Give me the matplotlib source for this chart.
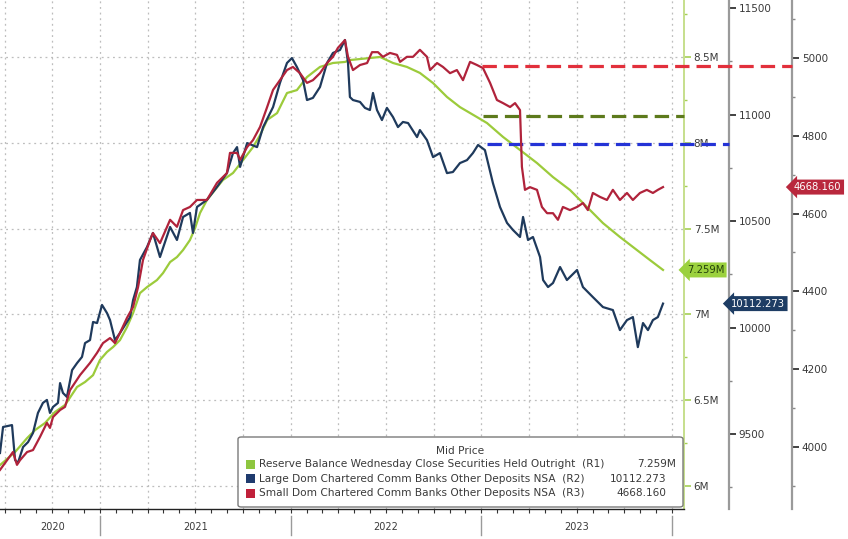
import matplotlib
matplotlib.use('Agg')
import matplotlib.pyplot as plt
import matplotlib.transforms as mtransforms
from matplotlib.patches import FancyBboxPatch, Rectangle
from matplotlib.ticker import MultipleLocator, FixedLocator, FuncFormatter, NullFormatter

# === Series (x in decimal years) ===
# Reserve Balance Wednesday Close Securities Held Outright (R1, millions -> "M")
green_x = [2020.476, 2020.555, 2020.618, 2020.660, 2020.712, 2020.764, 2020.817, 2020.880, 2020.922,
           2020.964, 2021.000, 2021.037, 2021.069, 2021.105, 2021.142, 2021.174, 2021.210, 2021.247,
           2021.299, 2021.331, 2021.368, 2021.404, 2021.436, 2021.472, 2021.499, 2021.525, 2021.561,
           2021.603, 2021.645, 2021.698, 2021.751, 2021.803, 2021.840, 2021.877, 2021.929, 2021.981,
           2022.033, 2022.086, 2022.154, 2022.222, 2022.285, 2022.311, 2022.416, 2022.469, 2022.537,
           2022.610, 2022.678, 2022.747, 2022.820, 2022.888, 2022.977, 2023.030, 2023.114, 2023.203,
           2023.292, 2023.376, 2023.465, 2023.554, 2023.638, 2023.727, 2023.816, 2023.884, 2023.953]
green_v = [6.122, 6.198, 6.279, 6.326, 6.367, 6.431, 6.472, 6.577, 6.606,
           6.646, 6.734, 6.781, 6.810, 6.850, 6.926, 7.008, 7.124, 7.159,
           7.200, 7.241, 7.305, 7.334, 7.375, 7.433, 7.503, 7.591, 7.666,
           7.725, 7.783, 7.824, 7.900, 7.975, 8.045, 8.133, 8.173, 8.290,
           8.307, 8.383, 8.442, 8.465, 8.471, 8.482, 8.494, 8.500, 8.465,
           8.442, 8.407, 8.348, 8.267, 8.208, 8.150, 8.115, 8.034, 7.958,
           7.882, 7.800, 7.725, 7.626, 7.532, 7.451, 7.375, 7.317, 7.259]

# Large Dom Chartered Comm Banks Other Deposits NSA (R2)
blue_x = [2020.476, 2020.492, 2020.539, 2020.555, 2020.570, 2020.597, 2020.623, 2020.649, 2020.675,
          2020.701, 2020.722, 2020.738, 2020.754, 2020.780, 2020.791, 2020.806, 2020.827, 2020.854,
          2020.880, 2020.906, 2020.922, 2020.948, 2020.964, 2020.985, 2021.011, 2021.037, 2021.053,
          2021.079, 2021.105, 2021.132, 2021.158, 2021.174, 2021.194, 2021.210, 2021.247, 2021.278,
          2021.315, 2021.368, 2021.404, 2021.436, 2021.472, 2021.488, 2021.509, 2021.561, 2021.614,
          2021.666, 2021.698, 2021.719, 2021.735, 2021.772, 2021.824, 2021.856, 2021.908, 2021.944,
          2021.981, 2022.007, 2022.033, 2022.065, 2022.086, 2022.117, 2022.154, 2022.191, 2022.222,
          2022.259, 2022.285, 2022.301, 2022.311, 2022.327, 2022.364, 2022.390, 2022.416, 2022.432,
          2022.453, 2022.479, 2022.505, 2022.537, 2022.563, 2022.589, 2022.616, 2022.663, 2022.678,
          2022.715, 2022.747, 2022.783, 2022.820, 2022.851, 2022.888, 2022.925, 2022.956, 2022.983,
          2023.019, 2023.061, 2023.098, 2023.135, 2023.166, 2023.203, 2023.219, 2023.245, 2023.271,
          2023.308, 2023.324, 2023.350, 2023.376, 2023.413, 2023.449, 2023.502, 2023.533, 2023.585,
          2023.638, 2023.690, 2023.727, 2023.764, 2023.795, 2023.821, 2023.848, 2023.874, 2023.900,
          2023.926, 2023.953]
blue_v = [9411, 9533, 9542, 9378, 9364, 9439, 9462, 9505, 9599,
          9646, 9660, 9599, 9627, 9646, 9739, 9693, 9674, 9800,
          9833, 9862, 9927, 9941, 10026, 10021, 10106, 10068, 10035,
          9941, 9974, 10012, 10049, 10129, 10190, 10317, 10378, 10444,
          10331, 10472, 10411, 10519, 10538, 10444, 10566, 10599, 10660,
          10725, 10819, 10847, 10754, 10866, 10847, 10941, 11035, 11148,
          11242, 11265, 11223, 11162, 11068, 11078, 11129, 11242, 11289,
          11303, 11350, 11242, 11082, 11068, 11059, 11031, 11021, 11101,
          11021, 10974, 11031, 10988, 10941, 10965, 10960, 10894, 10927,
          10880, 10800, 10819, 10725, 10730, 10772, 10786, 10819, 10857,
          10833, 10678, 10566, 10491, 10458, 10425, 10519, 10411, 10425,
          10331, 10223, 10190, 10209, 10284, 10223, 10270, 10190, 10143,
          10096, 10082, 9988, 10035, 10049, 9908, 10021, 9988, 10035,
          10049, 10112.273]

# Small Dom Chartered Comm Banks Other Deposits NSA (R3)
red_x = [2020.476, 2020.513, 2020.544, 2020.565, 2020.581, 2020.618, 2020.649, 2020.686, 2020.722,
         2020.738, 2020.754, 2020.791, 2020.817, 2020.843, 2020.896, 2020.948, 2020.985, 2021.016,
         2021.053, 2021.079, 2021.105, 2021.142, 2021.174, 2021.200, 2021.226, 2021.263, 2021.278,
         2021.315, 2021.368, 2021.404, 2021.436, 2021.472, 2021.509, 2021.561, 2021.614, 2021.666,
         2021.682, 2021.719, 2021.735, 2021.772, 2021.803, 2021.840, 2021.877, 2021.908, 2021.944,
         2021.981, 2022.012, 2022.049, 2022.086, 2022.117, 2022.154, 2022.191, 2022.222, 2022.248,
         2022.285, 2022.301, 2022.327, 2022.364, 2022.401, 2022.427, 2022.458, 2022.484, 2022.521,
         2022.558, 2022.574, 2022.610, 2022.642, 2022.678, 2022.715, 2022.731, 2022.768, 2022.799,
         2022.836, 2022.872, 2022.904, 2022.941, 2022.977, 2023.009, 2023.046, 2023.082, 2023.114,
         2023.151, 2023.177, 2023.203, 2023.213, 2023.229, 2023.255, 2023.292, 2023.318, 2023.345,
         2023.376, 2023.402, 2023.428, 2023.465, 2023.502, 2023.533, 2023.559, 2023.585, 2023.622,
         2023.659, 2023.690, 2023.727, 2023.764, 2023.795, 2023.832, 2023.868, 2023.900, 2023.926,
         2023.953]
red_v = [3941, 3966, 3987, 3954, 3966, 3987, 3992, 4026, 4062,
         4049, 4077, 4095, 4103, 4146, 4185, 4216, 4242, 4267,
         4280, 4267, 4293, 4332, 4360, 4411, 4481, 4532, 4550,
         4524, 4584, 4566, 4609, 4617, 4635, 4635, 4679, 4704,
         4756, 4756, 4738, 4771, 4789, 4823, 4874, 4918, 4943,
         4969, 4977, 4961, 4936, 4943, 4961, 4987, 5003, 5026,
         5046, 5003, 4969, 4982, 4987, 5015, 5015, 5003, 5013,
         5008, 4990, 5003, 5003, 5021, 5003, 4969, 4987, 4977,
         4961, 4969, 4943, 4990, 4982, 4974, 4936, 4892, 4884,
         4874, 4884, 4866, 4720, 4661, 4668, 4661, 4617, 4601,
         4601, 4584, 4617, 4609, 4617, 4627, 4609, 4653, 4643,
         4635, 4661, 4635, 4653, 4635, 4653, 4661, 4653, 4661,
         4668.160]

# Dashed reference levels (start date, level)
green_lvl_x, green_lvl = 2023.009, 8.156
blue_lvl_x, blue_lvl = 2023.030, 10861
red_lvl_x, red_lvl = 2023.004, 4980

years = [2020, 2021, 2022, 2023]
year_bounds = [2021, 2022, 2023, 2024]

legend_names = ['Reserve Balance Wednesday Close Securities Held Outright  (R1)',
                'Large Dom Chartered Comm Banks Other Deposits NSA  (R2)',
                'Small Dom Chartered Comm Banks Other Deposits NSA  (R3)']

# === Style ===
c_green = '#9ccb3b'
c_blue = '#1f3a5c'
c_red = '#b0233b'
txt = '#3a3a3a'
W, H = 848, 539

fig = plt.figure(figsize=(W / 100, H / 100), dpi=100)
ax = fig.add_axes([0, 1 - 509 / H, 684 / W, 509 / H])
ax2 = ax.twinx()
ax3 = ax.twinx()

xlim = (2020.476, 2024.063)
ax.set_xlim(*xlim)
ax.set_ylim(5.866, 8.832)
ax2.set_ylim(9148, 11537.6)
ax3.set_ylim(3840.5, 5149.1)

pos2 = 729 / 684
pos3 = 792 / 684

# grid
ax.xaxis.set_major_locator(FixedLocator([2020.5 + 0.25 * k for k in range(15)]))
ax.xaxis.set_minor_locator(FixedLocator([2020.5 + k / 12 for k in range(43)]))
ax.xaxis.set_major_formatter(NullFormatter())
ax.tick_params(axis='x', which='both', direction='out', length=3, color='#333333', width=0.8)
ax.grid(True, axis='both', which='major', color='#bdbdbd', linestyle=(0, (1.5, 3)), linewidth=0.9)

# R1 axis (host, right side)
ax.yaxis.tick_right()
ax.yaxis.set_major_locator(MultipleLocator(0.5))
ax.yaxis.set_minor_locator(MultipleLocator(0.25))
ax.yaxis.set_major_formatter(FuncFormatter(lambda v, p: f'{v:g}M'))
ax.tick_params(axis='y', which='major', length=5, width=1.2, color='#a6cf55', labelsize=7.5,
               labelcolor=txt, pad=2)
ax.tick_params(axis='y', which='minor', length=2.5, width=1, color='#a6cf55')
for s in ['left', 'top']:
    ax.spines[s].set_visible(False)
ax.spines['right'].set_color('#c6df8c')
ax.spines['right'].set_linewidth(1.4)
ax.spines['bottom'].set_color('#222222')
ax.spines['bottom'].set_linewidth(1.0)

# R2 / R3 axes
for a, pos, major, minor in [(ax2, pos2, 500, 250), (ax3, pos3, 200, 100)]:
    for s in ['left', 'top', 'bottom']:
        a.spines[s].set_visible(False)
    a.spines['right'].set_position(('axes', pos))
    a.spines['right'].set_color('#9a9a9a')
    a.spines['right'].set_linewidth(1.6)
    a.yaxis.set_major_locator(MultipleLocator(major))
    a.yaxis.set_minor_locator(MultipleLocator(minor))
    a.tick_params(axis='y', which='major', length=5, width=1.3, color='#333333', labelsize=7.5,
                  labelcolor=txt, pad=2)
    a.tick_params(axis='y', which='minor', length=2.5, width=1, color='#888888')

# lines
ax.plot(green_x, green_v, color=c_green, lw=1.6, zorder=3)
ax2.plot(blue_x, blue_v, color=c_blue, lw=1.6, zorder=3)
ax3.plot(red_x, red_v, color=c_red, lw=1.6, zorder=3)

# dashed level lines running out to each series' own axis
span = xlim[1] - xlim[0]
dash = (0, (4.5, 2.2))
ax3.plot([red_lvl_x, xlim[0] + pos3 * span], [red_lvl, red_lvl], color='#e2303c', lw=2.3,
         linestyle=dash, clip_on=False, zorder=4)
ax.plot([green_lvl_x, xlim[1]], [green_lvl, green_lvl], color='#5d7a1c', lw=2.3,
        linestyle=dash, clip_on=False, zorder=4)
ax2.plot([blue_lvl_x, xlim[0] + pos2 * span], [blue_lvl, blue_lvl], color='#2433d6', lw=2.3,
         linestyle=dash, clip_on=False, zorder=4)

# last value tags
for a, xpos, val, label, fc, tc in [
        (ax, 1.004, green_v[-1], f'{green_v[-1]:.3f}M', '#9bd13e', '#24410a'),
        (ax2, pos2 + 0.003, blue_v[-1], f'{blue_v[-1]:.3f}', '#1e3d64', 'white'),
        (ax3, pos3 + 0.003, red_v[-1], f'{red_v[-1]:.3f}', '#b9283d', 'white')]:
    tr = mtransforms.blended_transform_factory(a.transAxes, a.transData)
    a.text(xpos, val, label, transform=tr, ha='left', va='center', fontsize=7.2, color=tc,
           clip_on=False, zorder=6,
           bbox=dict(boxstyle='larrow,pad=0.25', fc=fc, ec='none'))

# year labels and separators
trx = mtransforms.blended_transform_factory(ax.transData, ax.transAxes)
for b in year_bounds:
    ax.plot([b, b], [-0.014, -0.052], transform=trx, color='#9a9a9a', lw=1.0, clip_on=False)
for y in years:
    lo = max(y, xlim[0])
    ax.text((lo + y + 1) / 2 + (0.015 if y == 2020 else 0), -0.036, str(y), transform=trx,
            ha='center', va='center', fontsize=7, color=txt)

# legend box
lx0, lx1, ly0, ly1 = 238 / W, 683 / W, 1 - 507 / H, 1 - 437 / H
fig.patches.append(FancyBboxPatch((lx0, ly0), lx1 - lx0, ly1 - ly0,
                                  boxstyle='round,pad=0,rounding_size=0.004',
                                  transform=fig.transFigure, fc='white', ec='#7a7a7a', lw=1.0,
                                  zorder=10))
fig.text(460 / W, 1 - 451 / H, 'Mid Price', ha='center', va='center', fontsize=7.6, color=txt,
         zorder=11)
leg_colors = ['#8ec63f', '#1f3b6e', '#c0203a']
leg_vals = [f'{green_v[-1]:.3f}M', f'{blue_v[-1]:.3f}', f'{red_v[-1]:.3f}']
leg_right = [676, 666, 666]
for i, (name, col, v, r) in enumerate(zip(legend_names, leg_colors, leg_vals, leg_right)):
    yy = 464 + i * 14.5
    fig.patches.append(Rectangle((246 / W, 1 - (yy + 4.5) / H), 9 / W, 9 / H,
                                 transform=fig.transFigure, fc=col, ec='none', zorder=11))
    fig.text(259 / W, 1 - yy / H, name, ha='left', va='center', fontsize=7.6, color=txt, zorder=11)
    fig.text(r / W, 1 - yy / H, v, ha='right', va='center', fontsize=7.6, color=txt, zorder=11)

plt.savefig('out.png', dpi=100)
